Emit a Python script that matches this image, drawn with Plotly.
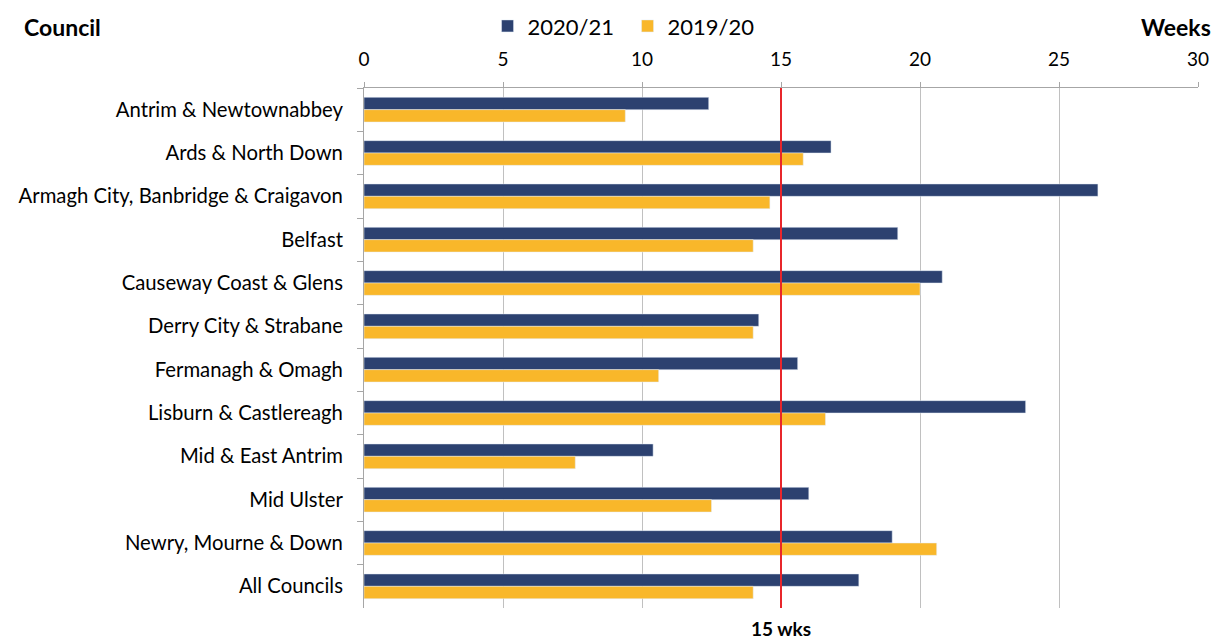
import plotly.graph_objects as go

councils = ["Antrim & Newtownabbey", "Ards & North Down", "Armagh City, Banbridge & Craigavon",
            "Belfast", "Causeway Coast & Glens", "Derry City & Strabane", "Fermanagh & Omagh",
            "Lisburn & Castlereagh", "Mid & East Antrim", "Mid Ulster", "Newry, Mourne & Down",
            "All Councils"]
weeks_2020_21 = [12.4, 16.8, 26.4, 19.2, 20.8, 14.2, 15.6, 23.8, 10.4, 16.0, 19.0, 17.8]
weeks_2019_20 = [9.4, 15.8, 14.6, 14.0, 20.0, 14.0, 10.6, 16.6, 7.6, 12.5, 20.6, 14.0]
target = 15

font = "Lato, Calibri, Arial, sans-serif"
left, top, plot_w, plot_h = 364, 88, 834, 520

fig = go.Figure()
fig.add_trace(go.Bar(y=councils, x=weeks_2020_21, orientation="h", name="2020/21",
                     marker_color="#2C4170"))
fig.add_trace(go.Bar(y=councils, x=weeks_2019_20, orientation="h", name="2019/20",
                     marker_color="#F9B72A"))

# 15 week target line
fig.add_shape(type="line", x0=target, x1=target, y0=0, y1=1, xref="x", yref="paper",
              line=dict(color="#E8262B", width=2))

fig.add_annotation(x=target, y=0, xref="x", yref="paper", text="<b>15 wks</b>",
                   showarrow=False, yanchor="middle", yshift=-20, font=dict(size=19, color="black"))
fig.add_annotation(x=(22 - left) / plot_w, y=1.0, xref="paper", yref="paper", text="<b>Council</b>",
                   showarrow=False, xanchor="left", yanchor="middle", yshift=61,
                   font=dict(size=23, color="black"))
fig.add_annotation(x=(1213 - left) / plot_w, y=1.0, xref="paper", yref="paper", text="<b>Weeks</b>",
                   showarrow=False, xanchor="right", yanchor="middle", yshift=61,
                   font=dict(size=23, color="black"))

fig.update_layout(
    width=1215, height=641,
    margin=dict(l=left, r=1215 - left - plot_w, t=top, b=641 - top - plot_h, autoexpand=False),
    plot_bgcolor="white", paper_bgcolor="white",
    font=dict(family=font, size=20, color="black"),
    barmode="group", bargap=0.43, bargroupgap=0,
    legend=dict(orientation="h", x=0.316, y=0.992, xanchor="center", yanchor="top",
                yref="container", font=dict(size=22), itemwidth=30, entrywidth=95,
                traceorder="normal"),
    showlegend=True,
)
fig.update_xaxes(side="top", range=[0, 30], dtick=5, showgrid=True, gridcolor="#C0C0C0",
                 gridwidth=1, showline=True, linecolor="#A6A6A6", ticks="outside",
                 ticklen=5, tickcolor="#A6A6A6", zeroline=False, automargin=False,
                 tickfont=dict(size=19), ticklabelstandoff=8)
fig.update_yaxes(autorange="reversed", showline=True, linecolor="#A6A6A6", ticks="outside",
                 tickson="boundaries", ticklen=6, tickcolor="#A6A6A6", showgrid=False,
                 automargin=False, tickfont=dict(size=20.3), ticklabelstandoff=16)

# drop the default page margin so the figure fills the window exactly
fig.write_html("out.html", config={"displayModeBar": False},
               post_script="document.body.style.margin='0';")
